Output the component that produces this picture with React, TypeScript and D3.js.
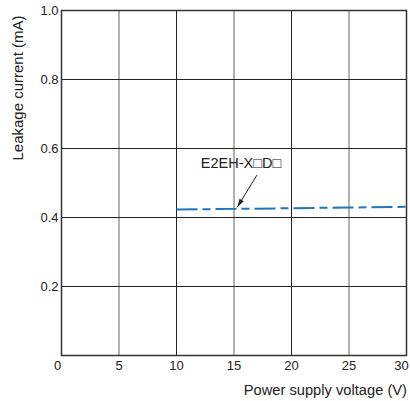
import * as d3 from 'd3'
import React, { useEffect, useRef } from 'react'

// Data
const voltage = [10, 15, 20, 25, 30]
const leakage = [0.423, 0.425, 0.427, 0.429, 0.431]
const xTicks = [0, 5, 10, 15, 20, 25, 30]
const yTicks = [0.2, 0.4, 0.6, 0.8, 1.0]
const seriesLabel = 'E2EH-X\u25A1D\u25A1'

const App = () => {
  const svgRef = useRef<any>(null)

  useEffect(() => {
    if (!svgRef.current) return
    const svg = d3.select(svgRef.current)
    svg.selectAll('*').remove()

    const width = 410
    const height = 401
    const left = 61.5
    const right = 406.5
    const top = 10.5
    const bottom = 355.5
    const font = 'Liberation Sans, Arial, sans-serif'

    svg.attr('width', width).attr('height', height)

    const x = d3.scaleLinear().domain([0, 30]).range([left, right])
    const y = d3.scaleLinear().domain([0, 1]).range([bottom, top])

    // Vertical grid: 10/20 dark, 5/15/25 grey
    svg.selectAll('.vgrid')
      .data(xTicks.filter((t) => t > 0 && t < 30))
      .enter()
      .append('line')
      .attr('x1', (d) => x(d))
      .attr('x2', (d) => x(d))
      .attr('y1', top)
      .attr('y2', bottom)
      .attr('stroke', (d) => (d % 10 === 0 ? '#222' : '#888'))
      .attr('stroke-width', (d) => (d % 10 === 0 ? 1 : 1.3))

    // Horizontal grid
    svg.selectAll('.hgrid')
      .data(yTicks.filter((t) => t < 1))
      .enter()
      .append('line')
      .attr('x1', left)
      .attr('x2', right)
      .attr('y1', (d) => y(d))
      .attr('y2', (d) => y(d))
      .attr('stroke', '#222')
      .attr('stroke-width', 1)

    // Frame
    svg.append('rect')
      .attr('x', left)
      .attr('y', top)
      .attr('width', right - left)
      .attr('height', bottom - top)
      .attr('fill', 'none')
      .attr('stroke', '#333')
      .attr('stroke-width', 1.5)

    // Tick labels
    svg.selectAll('.xlab')
      .data(xTicks)
      .enter()
      .append('text')
      .attr('x', (d) => x(d) - (d === 0 ? 4 : d === 30 ? 5 : 0))
      .attr('y', 369.5)
      .attr('text-anchor', 'middle')
      .attr('font-family', font)
      .attr('font-size', 13)
      .attr('fill', '#222')
      .text((d) => d)

    svg.selectAll('.ylab')
      .data([0.2, 0.4, 0.6, 0.8, 1.0])
      .enter()
      .append('text')
      .attr('x', left - 3)
      .attr('y', (d) => y(d) + 4.5)
      .attr('text-anchor', 'end')
      .attr('font-family', font)
      .attr('font-size', 13)
      .attr('fill', '#222')
      .text((d) => d.toFixed(1))

    // Axis titles
    svg.append('text')
      .attr('x', 407)
      .attr('y', 395)
      .attr('text-anchor', 'end')
      .attr('font-family', font)
      .attr('font-size', 14.7)
      .attr('fill', '#222')
      .text('Power supply voltage (V)')

    svg.append('text')
      .attr('transform', `translate(23, 88) rotate(-90)`)
      .attr('text-anchor', 'middle')
      .attr('font-family', font)
      .attr('font-size', 15)
      .attr('fill', '#222')
      .text('Leakage current (mA)')

    // Series line
    const line = d3.line<number>()
      .x((d, i) => x(voltage[i]))
      .y((d) => y(d))

    svg.append('path')
      .datum(leakage)
      .attr('d', line)
      .attr('fill', 'none')
      .attr('stroke', '#1e74bd')
      .attr('stroke-width', 2)
      .attr('stroke-dasharray', '21 5 8 5')

    // Label and arrow
    svg.append('text')
      .attr('x', 241)
      .attr('y', 168)
      .attr('text-anchor', 'middle')
      .attr('font-family', font)
      .attr('font-size', 14.5)
      .attr('fill', '#222')
      .text(seriesLabel)

    const ax1 = 257
    const ay1 = 175
    const ax2 = x(15.3)
    const ay2 = y(0.425) - 2
    svg.append('line')
      .attr('x1', ax1)
      .attr('y1', ay1)
      .attr('x2', ax2)
      .attr('y2', ay2)
      .attr('stroke', '#222')
      .attr('stroke-width', 1)

    const ang = Math.atan2(ay2 - ay1, ax2 - ax1)
    const hl = 8
    const hw = 2.5
    const bx = ax2 - hl * Math.cos(ang)
    const by = ay2 - hl * Math.sin(ang)
    svg.append('path')
      .attr('d', `M${ax2},${ay2}L${bx + hw * Math.sin(ang)},${by - hw * Math.cos(ang)}L${bx - hw * Math.sin(ang)},${by + hw * Math.cos(ang)}Z`)
      .attr('fill', '#222')
  }, [])

  return (
    <div style={{ position: 'absolute', left: 0, top: 0 }}>
      <svg ref={svgRef}></svg>
    </div>
  )
}

export default App
